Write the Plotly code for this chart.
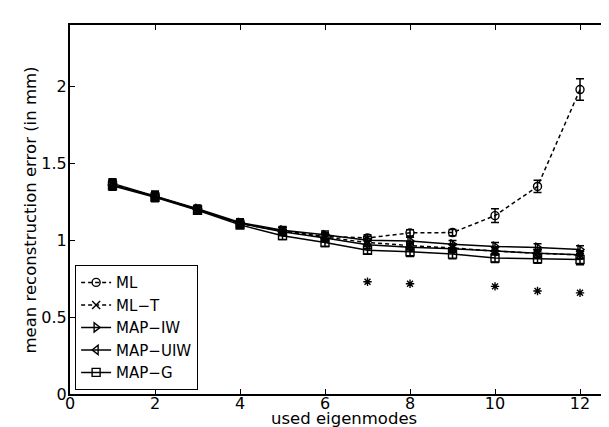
import plotly.graph_objects as go

eigenmodes = [1, 2, 3, 4, 5, 6, 7, 8, 9, 10, 11, 12]

ml = [1.36, 1.285, 1.20, 1.11, 1.06, 1.025, 1.015, 1.048, 1.05, 1.16, 1.35, 1.98]
ml_err = [0.03, 0.03, 0.025, 0.025, 0.025, 0.025, 0.02, 0.02, 0.02, 0.045, 0.04, 0.07]

ml_t = [1.365, 1.285, 1.20, 1.11, 1.06, 1.02, 0.985, 0.965, 0.95, 0.93, 0.915, 0.905]
ml_t_err = [0.03, 0.03, 0.025, 0.025, 0.025, 0.025, 0.025, 0.025, 0.025, 0.025, 0.025, 0.025]

map_iw = [1.37, 1.29, 1.205, 1.115, 1.065, 1.035, 1.0, 0.995, 0.974, 0.96, 0.953, 0.94]
map_iw_err = [0.03, 0.03, 0.025, 0.025, 0.025, 0.025, 0.025, 0.025, 0.025, 0.025, 0.025, 0.025]

map_uiw = [1.36, 1.285, 1.20, 1.11, 1.055, 1.015, 0.97, 0.955, 0.945, 0.93, 0.915, 0.905]
map_uiw_err = [0.03, 0.03, 0.025, 0.025, 0.025, 0.025, 0.025, 0.025, 0.025, 0.025, 0.025, 0.025]

map_g = [1.355, 1.28, 1.195, 1.10, 1.03, 0.985, 0.935, 0.925, 0.91, 0.885, 0.88, 0.875]
map_g_err = [0.03, 0.03, 0.025, 0.025, 0.025, 0.025, 0.025, 0.03, 0.03, 0.03, 0.03, 0.035]

sig_x = [7, 8, 10, 11, 12]
sig_y = [0.73, 0.717, 0.70, 0.67, 0.658]

x_title = "used eigenmodes"
y_title = "mean reconstruction error (in mm)"

series = [
    ("ML", ml, ml_err, "dash", "circle-open"),
    ("ML\u2212T", ml_t, ml_t_err, "dash", "x-thin-open"),
    ("MAP\u2212IW", map_iw, map_iw_err, "solid", "triangle-right-open"),
    ("MAP\u2212UIW", map_uiw, map_uiw_err, "solid", "triangle-left-open"),
    ("MAP\u2212G", map_g, map_g_err, "solid", "square-open"),
]

fig = go.Figure()
for name, vals, errs, dash, sym in series:
    fig.add_trace(go.Scatter(
        x=eigenmodes, y=vals, name=name, mode="lines+markers",
        line=dict(color="black", width=1.5, dash="4px,3px" if dash == "dash" else "solid"),
        marker=dict(symbol=sym, size=8, color="black", line=dict(color="black", width=1.4)),
        error_y=dict(type="data", array=errs, visible=True, color="black", thickness=1.5, width=4),
    ))

fig.add_trace(go.Scatter(
    x=sig_x, y=sig_y, mode="markers", showlegend=False,
    marker=dict(symbol="asterisk-open", size=7, color="black", line=dict(color="black", width=1.4)),
))

fam = "DejaVu Sans, Liberation Sans, Arial, sans-serif"
tick_font = dict(family=fam, size=16, color="black")
title_font = dict(family=fam, size=16.5, color="black")

fig.update_layout(
    width=609, height=427,
    margin=dict(l=62, r=0, t=17, b=41),
    paper_bgcolor="white", plot_bgcolor="white",
    font=tick_font,
    showlegend=True,
    legend=dict(
        x=0.009, y=0.011, xanchor="left", yanchor="bottom",
        bordercolor="black", borderwidth=1.2, bgcolor="white",
        font=dict(family=fam, size=15, color="black"),
        tracegroupgap=0, itemwidth=30,
    ),
    xaxis=dict(
        range=[0, 12.87], tickvals=[0, 2, 4, 6, 8, 10, 12],
        ticks="inside", ticklen=5, tickcolor="black",
        showline=True, linecolor="black", linewidth=2, mirror="ticks",
        showgrid=False, zeroline=False,
        tickfont=tick_font, ticklabelstandoff=-6,
    ),
    yaxis=dict(
        range=[0, 2.4], tickvals=[0, 0.5, 1, 1.5, 2], ticktext=["0", "0.5", "1", "1.5", "2"],
        ticks="inside", ticklen=5, tickcolor="black",
        showline=True, linecolor="black", linewidth=2, mirror=False,
        showgrid=False, zeroline=False,
        tickfont=tick_font, ticklabelstandoff=-2,
    ),
    annotations=[
        dict(text=x_title, xref="paper", yref="paper", x=0.5, y=-0.066,
             xanchor="center", yanchor="middle", showarrow=False, font=title_font, borderpad=0),
        dict(text=y_title, xref="paper", yref="paper", x=-0.0713, y=0.5, textangle=-90,
             xanchor="center", yanchor="middle", showarrow=False, font=title_font, borderpad=0),
    ],
)

fig.write_html("out.html")
